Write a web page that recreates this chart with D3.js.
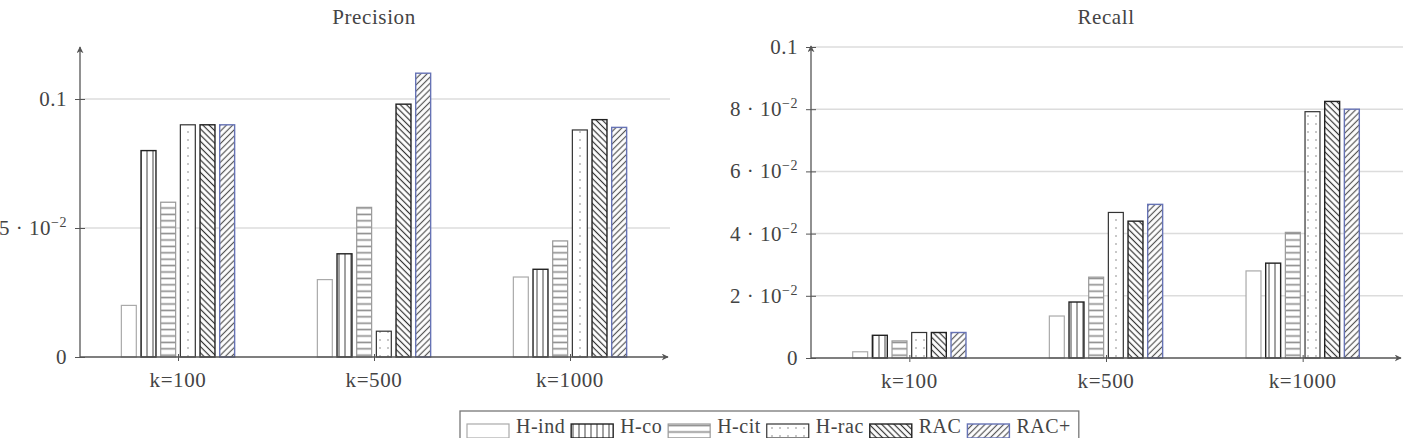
<!DOCTYPE html>
<meta charset="utf-8">
<style>
body { margin: 0; background: #fff; }
text { font-family: "Liberation Serif", serif; fill: #444; }
.grid line { stroke: #dcdcdc; stroke-width: 1.5; }
.tick line { stroke: #555; }
</style>
<body>
<svg width="1413" height="438"></svg>
<script src="https://cdn.jsdelivr.net/npm/d3@7"></script>
<script>

var groups = ["k=100", "k=500", "k=1000"];
var series = ["H-ind", "H-co", "H-cit", "H-rac", "RAC", "RAC+"];

// rows follow series, columns follow groups
var precision = [
  [0.020, 0.030, 0.031],
  [0.080, 0.040, 0.034],
  [0.060, 0.058, 0.045],
  [0.090, 0.010, 0.088],
  [0.090, 0.098, 0.092],
  [0.090, 0.110, 0.089]
];
var recall = [
  [0.002, 0.0135, 0.028],
  [0.0073, 0.018, 0.0305],
  [0.0055, 0.026, 0.0404],
  [0.0082, 0.0468, 0.0792],
  [0.0082, 0.044, 0.0825],
  [0.0082, 0.0494, 0.080]
];

var precisionTicks = [0, 0.05, 0.1];
var precisionLabels = ["0", "5 \u00b7 10^\u22122", "0.1"];
var recallTicks = [0, 0.02, 0.04, 0.06, 0.08, 0.1];
var recallLabels = ["0", "2 \u00b7 10^\u22122", "4 \u00b7 10^\u22122", "6 \u00b7 10^\u22122", "8 \u00b7 10^\u22122", "0.1"];

var svg = d3.select("svg");
var defs = svg.append("defs");

// arrow head for the axes
defs.append("marker")
    .attr("id", "arrow")
    .attr("viewBox", "0 0 10 10")
    .attr("refX", 9).attr("refY", 5)
    .attr("markerWidth", 7).attr("markerHeight", 7)
    .attr("markerUnits", "userSpaceOnUse")
    .attr("orient", "auto")
  .append("path")
    .attr("d", "M0,0 L10,5 L0,10 L3,5 Z")
    .attr("fill", "#555");

function linePattern(id, size, color, width, rotate, horizontal) {
  var p = defs.append("pattern")
      .attr("id", id)
      .attr("patternUnits", "userSpaceOnUse")
      .attr("width", size).attr("height", size);
  if (rotate) p.attr("patternTransform", "rotate(" + rotate + ")");
  if (horizontal)
    p.append("line").attr("x1", 0).attr("x2", size).attr("y1", size / 2).attr("y2", size / 2);
  else
    p.append("line").attr("x1", size / 2).attr("x2", size / 2).attr("y1", 0).attr("y2", size);
  p.select("line").attr("stroke", color).attr("stroke-width", width);
}
linePattern("vlines", 6, "#444", 1, 0, false);
linePattern("hlines", 6.4, "#8c8c8c", 1.6, 0, true);
linePattern("nwlines", 4.4, "#333", 1.2, -45, false);
linePattern("nelines", 4.4, "#555", 1.2, 45, false);

var dots = defs.append("pattern")
    .attr("id", "dots")
    .attr("patternUnits", "userSpaceOnUse")
    .attr("width", 8).attr("height", 8);
dots.append("circle").attr("cx", 4).attr("cy", 4).attr("r", 0.7).attr("fill", "#666");

var styles = [
  {fill: null, stroke: "#aaa", sw: 1.2},
  {fill: "url(#vlines)", stroke: "#222", sw: 1.4},
  {fill: "url(#hlines)", stroke: "#999", sw: 1.2},
  {fill: "url(#dots)", stroke: "#333", sw: 1.2},
  {fill: "url(#nwlines)", stroke: "#222", sw: 1.4},
  {fill: "url(#nelines)", stroke: "#6673b5", sw: 1.4}
];

function label(sel, str) {
  var parts = str.split("^");
  sel.text(parts[0]);
  if (parts.length > 1) {
    sel.append("tspan")
        .attr("dy", -8)
        .attr("font-size", 14)
        .text(parts[1]);
  }
}

function chart(cfg) {
  var g = svg.append("g");

  var x = d3.scalePoint()
      .domain(groups)
      .range([cfg.x0, cfg.x1])
      .padding(0.5);

  var y = d3.scaleLinear()
      .domain([0, 0.1])
      .range([cfg.yBase, cfg.yTen]);

  var inner = d3.scaleBand()
      .domain(series)
      .range([-59, 59])
      .paddingInner(0.24)
      .paddingOuter(0.12);

  // grid
  g.append("g").attr("class", "grid")
    .selectAll("line")
    .data(cfg.ticks.filter(function(d) { return d > 0; }))
    .enter().append("line")
      .attr("x1", cfg.x0).attr("x2", cfg.x1 + 2)
      .attr("y1", function(d) { return y(d); })
      .attr("y2", function(d) { return y(d); });

  // bars
  series.forEach(function(s, i) {
    var st = styles[i];
    var bars = g.append("g").selectAll("g")
      .data(cfg.values[i])
      .enter().append("g");
    bars.append("rect")
        .attr("x", function(d, j) { return x(groups[j]) + inner(s); })
        .attr("y", function(d) { return y(d); })
        .attr("width", inner.bandwidth())
        .attr("height", function(d) { return cfg.yBase - y(d); })
        .attr("fill", "#fff");
    bars.append("rect")
        .attr("x", function(d, j) { return x(groups[j]) + inner(s); })
        .attr("y", function(d) { return y(d); })
        .attr("width", inner.bandwidth())
        .attr("height", function(d) { return cfg.yBase - y(d); })
        .attr("fill", st.fill || "none")
        .attr("stroke", st.stroke)
        .attr("stroke-width", st.sw);
  });

  // y ticks
  var ya = g.append("g")
      .attr("transform", "translate(" + cfg.x0 + ",0)")
      .call(d3.axisLeft(y).tickValues(cfg.ticks).tickSize(5).tickFormat(""));
  ya.select(".domain").remove();
  ya.selectAll(".tick line").attr("x2", 5).attr("x1", -5);

  g.selectAll(".ylab")
    .data(cfg.ticks)
    .enter().append("text")
      .attr("class", "ylab")
      .attr("x", cfg.x0 - 13)
      .attr("y", function(d) { return y(d) + 7; })
      .attr("text-anchor", "end")
      .attr("font-size", 21)
      .attr("letter-spacing", 0.5)
      .each(function(d, i) { label(d3.select(this), cfg.labels[i]); });

  // x ticks
  var xa = g.append("g")
      .attr("transform", "translate(0," + cfg.yBase + ")")
      .call(d3.axisBottom(x).tickSize(4).tickFormat(""));
  xa.select(".domain").remove();
  xa.selectAll(".tick line").attr("y1", -3);

  g.selectAll(".xlab")
    .data(groups)
    .enter().append("text")
      .attr("class", "xlab")
      .attr("x", function(d) { return x(d); })
      .attr("y", cfg.yBase + 30)
      .attr("text-anchor", "middle")
      .attr("font-size", 21)
      .attr("letter-spacing", 0.6)
      .text(function(d) { return d; });

  // axis lines
  g.append("line")
      .attr("x1", cfg.x0).attr("x2", cfg.x0)
      .attr("y1", cfg.yBase).attr("y2", cfg.yTop)
      .attr("stroke", "#555").attr("stroke-width", 1.3)
      .attr("marker-end", "url(#arrow)");
  g.append("line")
      .attr("x1", cfg.x0).attr("x2", cfg.x1)
      .attr("y1", cfg.yBase).attr("y2", cfg.yBase)
      .attr("stroke", "#555").attr("stroke-width", 1.3)
      .attr("marker-end", "url(#arrow)");

  g.append("text")
      .attr("x", (cfg.x0 + cfg.x1) / 2)
      .attr("y", 24)
      .attr("text-anchor", "middle")
      .attr("font-size", 21)
      .attr("letter-spacing", 0.6)
      .attr("fill", "#555")
      .text(cfg.title);
}

chart({title: "Precision", values: precision, ticks: precisionTicks, labels: precisionLabels,
       x0: 80, x1: 668, yBase: 357, yTen: 99, yTop: 47});
chart({title: "Recall", values: recall, ticks: recallTicks, labels: recallLabels,
       x0: 811, x1: 1401, yBase: 358, yTen: 47, yTop: 46});

// legend (box runs past the bottom edge, as in the source)
var leg = svg.append("g");
var lx = 467;
var box = leg.append("rect")
    .attr("y", 411).attr("height", 40)
    .attr("fill", "#fff")
    .attr("stroke", "#777").attr("stroke-width", 1.3);
series.forEach(function(s, i) {
  var st = styles[i];
  leg.append("rect")
      .attr("x", lx).attr("y", 424)
      .attr("width", 42).attr("height", 14)
      .attr("fill", st.fill || "#fff")
      .attr("stroke", st.stroke)
      .attr("stroke-width", st.sw);
  var t = leg.append("text")
      .attr("x", lx + 49).attr("y", 433)
      .attr("font-size", 20)
      .attr("letter-spacing", 0.5)
      .text(s);
  lx += 49 + t.node().getComputedTextLength() + 6;
});
box.attr("x", 460).attr("width", lx - 460 + 2);

</script>
</body>
